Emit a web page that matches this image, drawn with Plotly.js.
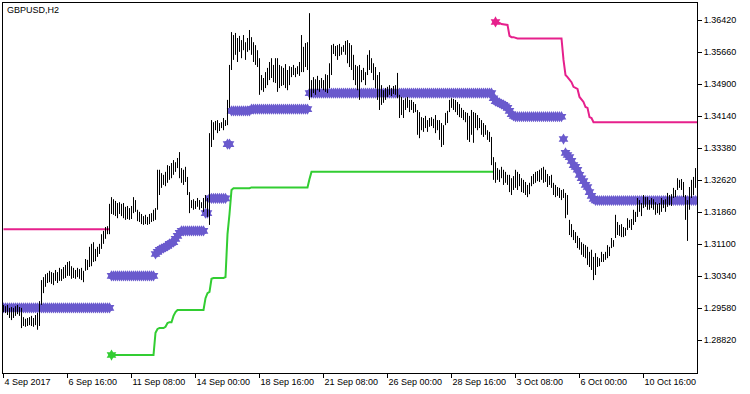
<!DOCTYPE html>
<html>
<head>
<meta charset="utf-8">
<script src="https://cdn.plot.ly/plotly-3.0.1.min.js"></script>
<style>html,body{margin:0;padding:0;background:#fff;}#chart{width:750px;height:394px;}</style>
</head>
<body>
<div id="chart"></div>
<script>
// GBPUSD H2, one row = one trading day (12 bars), 4 Sep 2017 .. 12 Oct 2017
const high = [
1.2966,1.2963,1.2966,1.2959,1.2961,1.2959,1.2963,1.2966,1.2961,1.2959,1.2937,1.2933,
1.2935,1.2937,1.2940,1.2935,1.2942,1.2947,1.2975,1.3025,1.3032,1.3039,1.3042,1.3047,
1.3044,1.3042,1.3049,1.3044,1.3054,1.3051,1.3056,1.3061,1.3068,1.3070,1.3058,1.3054,
1.3049,1.3054,1.3051,1.3054,1.3047,1.3075,1.3073,1.3104,1.3111,1.3115,1.3099,1.3104,
1.3111,1.3134,1.3142,1.3151,1.3153,1.3206,1.3222,1.3217,1.3213,1.3208,1.3210,1.3206,
1.3208,1.3199,1.3201,1.3196,1.3201,1.3222,1.3215,1.3192,1.3187,1.3182,1.3177,1.3180,
1.3175,1.3182,1.3184,1.3192,1.3196,1.3287,1.3287,1.3279,1.3275,1.3282,1.3298,1.3296,
1.3303,1.3310,1.3305,1.3315,1.3329,1.3291,1.3287,1.3294,1.3270,1.3234,1.3215,1.3217,
1.3213,1.3220,1.3215,1.3210,1.3220,1.3227,1.3220,1.3374,1.3405,1.3400,1.3403,1.3405,
1.3398,1.3400,1.3410,1.3405,1.3453,1.3536,1.3614,1.3607,1.3612,1.3600,1.3605,1.3595,
1.3607,1.3590,1.3600,1.3619,1.3602,1.3590,1.3583,1.3571,1.3552,1.3512,1.3505,1.3519,
1.3529,1.3543,1.3552,1.3536,1.3552,1.3552,1.3536,1.3533,1.3529,1.3538,1.3524,1.3533,
1.3531,1.3536,1.3529,1.3533,1.3543,1.3607,1.3579,1.3588,1.3590,1.3659,1.3500,1.3507,
1.3502,1.3510,1.3500,1.3505,1.3500,1.3514,1.3512,1.3540,1.3583,1.3586,1.3581,1.3583,
1.3586,1.3579,1.3583,1.3593,1.3595,1.3588,1.3583,1.3560,1.3536,1.3533,1.3536,1.3524,
1.3529,1.3519,1.3560,1.3571,1.3552,1.3540,1.3531,1.3512,1.3519,1.3488,1.3476,1.3481,
1.3484,1.3488,1.3481,1.3486,1.3488,1.3517,1.3465,1.3460,1.3453,1.3457,1.3460,1.3453,
1.3453,1.3448,1.3443,1.3429,1.3424,1.3412,1.3410,1.3415,1.3405,1.3410,1.3412,1.3408,
1.3417,1.3405,1.3405,1.3398,1.3393,1.3422,1.3427,1.3453,1.3457,1.3455,1.3453,1.3448,
1.3443,1.3434,1.3429,1.3424,1.3422,1.3415,1.3429,1.3424,1.3422,1.3417,1.3410,1.3405,
1.3398,1.3393,1.3381,1.3377,1.3365,1.3317,1.3305,1.3291,1.3287,1.3294,1.3287,1.3282,
1.3275,1.3275,1.3267,1.3272,1.3287,1.3282,1.3277,1.3267,1.3263,1.3258,1.3251,1.3256,
1.3272,1.3277,1.3282,1.3284,1.3287,1.3291,1.3294,1.3287,1.3277,1.3272,1.3275,1.3256,
1.3251,1.3246,1.3244,1.3239,1.3241,1.3232,1.3227,1.3168,1.3158,1.3144,1.3139,1.3130,
1.3125,1.3115,1.3111,1.3108,1.3104,1.3092,1.3097,1.3080,1.3089,1.3080,1.3077,1.3092,
1.3087,1.3092,1.3108,1.3104,1.3125,1.3120,1.3180,1.3163,1.3156,1.3158,1.3151,1.3149,
1.3172,1.3168,1.3170,1.3192,1.3187,1.3220,1.3215,1.3208,1.3227,1.3222,1.3222,1.3215,
1.3220,1.3217,1.3210,1.3206,1.3208,1.3220,1.3215,1.3217,1.3232,1.3227,1.3229,1.3244,
1.3239,1.3267,1.3263,1.3265,1.3258,1.3227,1.3215,1.3246,1.3263,1.3270,1.3291,1.3287
];
const low = [
1.2949,1.2947,1.2942,1.2935,1.2930,1.2935,1.2940,1.2944,1.2940,1.2911,1.2916,1.2914,
1.2916,1.2918,1.2916,1.2914,1.2918,1.2907,1.2916,1.2966,1.2994,1.3009,1.3018,1.3020,
1.3016,1.3013,1.3023,1.3018,1.3023,1.3023,1.3028,1.3030,1.3035,1.3035,1.3028,1.3030,
1.3028,1.3032,1.3028,1.3025,1.3020,1.3047,1.3049,1.3056,1.3058,1.3068,1.3070,1.3080,
1.3087,1.3099,1.3111,1.3123,1.3134,1.3134,1.3182,1.3180,1.3177,1.3172,1.3182,1.3177,
1.3172,1.3168,1.3170,1.3168,1.3170,1.3184,1.3187,1.3165,1.3163,1.3158,1.3156,1.3158,
1.3156,1.3158,1.3163,1.3165,1.3168,1.3192,1.3227,1.3244,1.3251,1.3248,1.3256,1.3263,
1.3267,1.3275,1.3282,1.3291,1.3267,1.3256,1.3251,1.3258,1.3227,1.3184,1.3196,1.3192,
1.3194,1.3199,1.3192,1.3196,1.3187,1.3196,1.3175,1.3156,1.3341,1.3358,1.3381,1.3374,
1.3379,1.3386,1.3381,1.3391,1.3393,1.3434,1.3524,1.3548,1.3560,1.3543,1.3567,1.3552,
1.3571,1.3548,1.3567,1.3571,1.3560,1.3543,1.3536,1.3531,1.3465,1.3476,1.3472,1.3481,
1.3488,1.3500,1.3505,1.3495,1.3493,1.3472,1.3481,1.3486,1.3488,1.3481,1.3476,1.3488,
1.3507,1.3512,1.3507,1.3514,1.3510,1.3519,1.3519,1.3531,1.3524,1.3453,1.3460,1.3469,
1.3465,1.3476,1.3472,1.3481,1.3476,1.3472,1.3469,1.3481,1.3512,1.3562,1.3557,1.3548,
1.3557,1.3560,1.3567,1.3560,1.3540,1.3531,1.3524,1.3500,1.3488,1.3476,1.3453,1.3495,
1.3500,1.3488,1.3512,1.3524,1.3517,1.3500,1.3481,1.3453,1.3429,1.3441,1.3446,1.3453,
1.3460,1.3465,1.3462,1.3467,1.3465,1.3457,1.3410,1.3417,1.3410,1.3429,1.3434,1.3424,
1.3429,1.3422,1.3424,1.3370,1.3362,1.3381,1.3377,1.3386,1.3377,1.3389,1.3391,1.3386,
1.3374,1.3381,1.3358,1.3341,1.3346,1.3393,1.3398,1.3424,1.3434,1.3429,1.3424,1.3417,
1.3412,1.3410,1.3405,1.3400,1.3358,1.3353,1.3370,1.3351,1.3386,1.3381,1.3386,1.3370,
1.3365,1.3370,1.3358,1.3353,1.3298,1.3263,1.3256,1.3263,1.3258,1.3267,1.3251,1.3256,
1.3251,1.3234,1.3227,1.3239,1.3244,1.3239,1.3248,1.3234,1.3232,1.3227,1.3222,1.3229,
1.3248,1.3253,1.3256,1.3260,1.3258,1.3263,1.3256,1.3258,1.3246,1.3251,1.3244,1.3227,
1.3222,1.3225,1.3220,1.3215,1.3220,1.3172,1.3180,1.3132,1.3127,1.3120,1.3113,1.3101,
1.3097,1.3085,1.3080,1.3077,1.3061,1.3056,1.3049,1.3025,1.3037,1.3056,1.3058,1.3068,
1.3068,1.3073,1.3077,1.3082,1.3101,1.3104,1.3125,1.3132,1.3130,1.3127,1.3127,1.3130,
1.3144,1.3149,1.3144,1.3156,1.3163,1.3175,1.3187,1.3177,1.3196,1.3199,1.3192,1.3192,
1.3196,1.3192,1.3180,1.3184,1.3180,1.3187,1.3196,1.3187,1.3199,1.3203,1.3201,1.3220,
1.3222,1.3239,1.3244,1.3239,1.3222,1.3168,1.3118,1.3192,1.3220,1.3227,1.3244,1.3239
];
const middle = [
1.2959,1.2959,1.2959,1.2959,1.2959,1.2959,1.2959,1.2959,1.2959,1.2959,1.2959,1.2959,
1.2959,1.2959,1.2959,1.2959,1.2959,1.2959,1.2959,1.2959,1.2959,1.2959,1.2959,1.2959,
1.2959,1.2959,1.2959,1.2959,1.2959,1.2959,1.2959,1.2959,1.2959,1.2959,1.2959,1.2959,
1.2959,1.2959,1.2959,1.2959,1.2959,1.2959,1.2959,1.2959,1.2959,1.2959,1.2959,1.2959,
1.2959,1.2959,1.2959,1.2959,1.2959,1.2959,1.3035,1.3035,1.3035,1.3035,1.3035,1.3035,
1.3035,1.3035,1.3035,1.3035,1.3035,1.3035,1.3035,1.3035,1.3035,1.3035,1.3035,1.3035,
1.3035,1.3035,1.3035,1.3035,1.3087,1.3092,1.3097,1.3099,1.3101,1.3104,1.3106,1.3111,
1.3113,1.3115,1.3123,1.3130,1.3137,1.3142,1.3142,1.3142,1.3142,1.3142,1.3142,1.3142,
1.3142,1.3142,1.3142,1.3142,1.3142,1.3184,1.3184,1.3219,1.3219,1.3219,1.3219,1.3219,
1.3219,1.3219,1.3219,1.3219,1.3348,1.3348,1.3427,1.3427,1.3427,1.3427,1.3427,1.3427,
1.3427,1.3427,1.3427,1.3427,1.3431,1.3431,1.3431,1.3431,1.3431,1.3431,1.3431,1.3431,
1.3431,1.3431,1.3431,1.3431,1.3431,1.3431,1.3431,1.3431,1.3431,1.3431,1.3431,1.3431,
1.3431,1.3431,1.3431,1.3431,1.3431,1.3431,1.3431,1.3431,1.3431,1.3469,1.3469,1.3469,
1.3469,1.3469,1.3469,1.3469,1.3469,1.3469,1.3469,1.3469,1.3469,1.3469,1.3469,1.3469,
1.3469,1.3469,1.3469,1.3469,1.3469,1.3469,1.3469,1.3469,1.3469,1.3469,1.3469,1.3469,
1.3469,1.3469,1.3469,1.3469,1.3469,1.3469,1.3469,1.3469,1.3469,1.3469,1.3469,1.3469,
1.3469,1.3469,1.3469,1.3469,1.3469,1.3469,1.3469,1.3469,1.3469,1.3469,1.3469,1.3469,
1.3469,1.3469,1.3469,1.3469,1.3469,1.3469,1.3469,1.3469,1.3469,1.3469,1.3469,1.3469,
1.3469,1.3469,1.3469,1.3469,1.3469,1.3469,1.3469,1.3469,1.3469,1.3469,1.3469,1.3469,
1.3469,1.3469,1.3469,1.3469,1.3469,1.3469,1.3469,1.3469,1.3469,1.3469,1.3469,1.3469,
1.3469,1.3469,1.3469,1.3469,1.3469,1.3457,1.3450,1.3448,1.3446,1.3443,1.3441,1.3438,
1.3434,1.3427,1.3419,1.3415,1.3413,1.3413,1.3413,1.3413,1.3413,1.3413,1.3413,1.3413,
1.3413,1.3413,1.3413,1.3413,1.3413,1.3413,1.3413,1.3413,1.3413,1.3413,1.3413,1.3413,
1.3413,1.3413,1.3413,1.3413,1.3360,1.3327,1.3322,1.3317,1.3308,1.3298,1.3294,1.3287,
1.3275,1.3267,1.3260,1.3251,1.3246,1.3234,1.3225,1.3218,1.3214,1.3214,1.3214,1.3214,
1.3214,1.3214,1.3214,1.3214,1.3214,1.3214,1.3214,1.3214,1.3214,1.3214,1.3214,1.3214,
1.3214,1.3214,1.3214,1.3214,1.3214,1.3214,1.3214,1.3214,1.3214,1.3214,1.3214,1.3214,
1.3214,1.3214,1.3214,1.3214,1.3214,1.3214,1.3214,1.3214,1.3214,1.3214,1.3214,1.3214,
1.3214,1.3214,1.3214,1.3214,1.3214,1.3214,1.3214,1.3214,1.3214,1.3214,1.3214,1.3214
];
const upper = [
1.3146,1.3146,1.3146,1.3146,1.3146,1.3146,1.3146,1.3146,1.3146,1.3146,1.3146,1.3146,
1.3146,1.3146,1.3146,1.3146,1.3146,1.3146,1.3146,1.3146,1.3146,1.3146,1.3146,1.3146,
1.3146,1.3146,1.3146,1.3146,1.3146,1.3146,1.3146,1.3146,1.3146,1.3146,1.3146,1.3146,
1.3146,1.3146,1.3146,1.3146,1.3146,1.3146,1.3146,1.3146,1.3146,1.3146,1.3146,1.3146,
1.3146,1.3146,1.3146,1.3146,1.3146,1.3146,null,null,null,null,null,null,
null,null,null,null,null,null,null,null,null,null,null,null,
null,null,null,null,null,null,null,null,null,null,null,null,
null,null,null,null,null,null,null,null,null,null,null,null,
null,null,null,null,null,null,null,null,null,null,null,null,
null,null,null,null,null,null,null,null,null,null,null,null,
null,null,null,null,null,null,null,null,null,null,null,null,
null,null,null,null,null,null,null,null,null,null,null,null,
null,null,null,null,null,null,null,null,null,null,null,null,
null,null,null,null,null,null,null,null,null,null,null,null,
null,null,null,null,null,null,null,null,null,null,null,null,
null,null,null,null,null,null,null,null,null,null,null,null,
null,null,null,null,null,null,null,null,null,null,null,null,
null,null,null,null,null,null,null,null,null,null,null,null,
null,null,null,null,null,null,null,null,null,null,null,null,
null,null,null,null,null,null,null,null,null,null,null,null,
null,null,null,null,null,null,1.3638,1.3637,1.3636,1.3633,1.3632,1.3631,
1.3631,1.3605,1.3602,1.3602,1.3600,1.3599,1.3599,1.3599,1.3599,1.3599,1.3599,1.3599,
1.3599,1.3599,1.3599,1.3599,1.3599,1.3599,1.3599,1.3599,1.3599,1.3599,1.3599,1.3599,
1.3599,1.3599,1.3599,1.3599,1.3548,1.3512,1.3507,1.3500,1.3495,1.3484,1.3481,1.3479,
1.3460,1.3455,1.3448,1.3436,1.3434,1.3412,1.3410,1.3400,1.3400,1.3400,1.3400,1.3400,
1.3400,1.3400,1.3400,1.3400,1.3400,1.3400,1.3400,1.3400,1.3400,1.3400,1.3400,1.3400,
1.3400,1.3400,1.3400,1.3400,1.3400,1.3400,1.3400,1.3400,1.3400,1.3400,1.3400,1.3400,
1.3400,1.3400,1.3400,1.3400,1.3400,1.3400,1.3400,1.3400,1.3400,1.3400,1.3400,1.3400,
1.3400,1.3400,1.3400,1.3400,1.3400,1.3400,1.3400,1.3400,1.3400,1.3400,1.3400,1.3400
];
const lower = [
null,null,null,null,null,null,null,null,null,null,null,null,
null,null,null,null,null,null,null,null,null,null,null,null,
null,null,null,null,null,null,null,null,null,null,null,null,
null,null,null,null,null,null,null,null,null,null,null,null,
null,null,null,null,null,null,1.2847,1.2847,1.2847,1.2847,1.2847,1.2847,
1.2847,1.2847,1.2847,1.2847,1.2847,1.2847,1.2847,1.2847,1.2847,1.2847,1.2847,1.2847,
1.2847,1.2847,1.2847,1.2847,1.2900,1.2909,1.2911,1.2911,1.2911,1.2914,1.2923,1.2925,
1.2925,1.2940,1.2949,1.2954,1.2954,1.2954,1.2954,1.2954,1.2954,1.2954,1.2954,1.2954,
1.2954,1.2954,1.2954,1.2954,1.2954,1.2982,1.2994,1.2997,1.3028,1.3030,1.3030,1.3030,
1.3030,1.3030,1.3030,1.3032,1.3134,1.3182,1.3239,1.3243,1.3243,1.3243,1.3243,1.3243,
1.3243,1.3243,1.3243,1.3243,1.3245,1.3245,1.3245,1.3245,1.3245,1.3245,1.3245,1.3245,
1.3245,1.3245,1.3245,1.3245,1.3245,1.3245,1.3245,1.3245,1.3245,1.3245,1.3245,1.3245,
1.3245,1.3245,1.3245,1.3245,1.3245,1.3245,1.3245,1.3245,1.3245,1.3265,1.3282,1.3282,
1.3282,1.3282,1.3282,1.3282,1.3282,1.3282,1.3282,1.3282,1.3282,1.3282,1.3282,1.3282,
1.3282,1.3282,1.3282,1.3282,1.3282,1.3282,1.3282,1.3282,1.3282,1.3282,1.3282,1.3282,
1.3282,1.3282,1.3282,1.3282,1.3282,1.3282,1.3282,1.3282,1.3282,1.3282,1.3282,1.3282,
1.3282,1.3282,1.3282,1.3282,1.3282,1.3282,1.3282,1.3282,1.3282,1.3282,1.3282,1.3282,
1.3282,1.3282,1.3282,1.3282,1.3282,1.3282,1.3282,1.3282,1.3282,1.3282,1.3282,1.3282,
1.3282,1.3282,1.3282,1.3282,1.3282,1.3282,1.3282,1.3282,1.3282,1.3282,1.3282,1.3282,
1.3282,1.3282,1.3282,1.3282,1.3282,1.3282,1.3282,1.3282,1.3282,1.3282,1.3282,1.3282,
1.3282,1.3282,1.3282,1.3282,1.3282,1.3282,null,null,null,null,null,null,
null,null,null,null,null,null,null,null,null,null,null,null,
null,null,null,null,null,null,null,null,null,null,null,null,
null,null,null,null,null,null,null,null,null,null,null,null,
null,null,null,null,null,null,null,null,null,null,null,null,
null,null,null,null,null,null,null,null,null,null,null,null,
null,null,null,null,null,null,null,null,null,null,null,null,
null,null,null,null,null,null,null,null,null,null,null,null,
null,null,null,null,null,null,null,null,null,null,null,null
];
const tickBars = [0, 32, 64, 96, 128, 160, 192, 224, 256, 288, 320];
const tickLabels = ['4 Sep 2017','6 Sep 16:00','11 Sep 08:00','14 Sep 00:00','18 Sep 16:00','21 Sep 08:00','26 Sep 00:00','28 Sep 16:00','3 Oct 08:00','6 Oct 00:00','10 Oct 16:00'];
const priceTicks = [1.28820, 1.29580, 1.30340, 1.31100, 1.31860, 1.32620, 1.33380, 1.34140, 1.34900, 1.35660, 1.36420];
const chartTitle = 'GBPUSD,H2';

const FONT = '"Liberation Sans", Arial, sans-serif';
const N = high.length;
const barIdx = high.map((_, i) => i);

// price bars as vertical high-low strokes
const bx = [], by = [];
for (let i = 0; i < N; i++) { bx.push(i, i, null); by.push(low[i], high[i], null); }

// start markers: where a line starts after a gap
function starts(arr) {
  const xs = [], ys = [];
  for (let i = 1; i < arr.length; i++) {
    if (arr[i] !== null && arr[i - 1] === null) { xs.push(i); ys.push(arr[i]); }
  }
  return {xs, ys};
}
const us = starts(upper), ls = starts(lower);

const PINK = '#E6208C', GREEN = '#32CD32', PURPLE = '#6A5ACD';
const STAR = 8.5;

const traces = [
  {x: barIdx, y: upper, type: 'scatter', mode: 'lines', line: {color: PINK, width: 2}, connectgaps: false, hoverinfo: 'skip'},
  {x: barIdx, y: lower, type: 'scatter', mode: 'lines', line: {color: GREEN, width: 2}, connectgaps: false, hoverinfo: 'skip'},
  {x: barIdx, y: middle, type: 'scatter', mode: 'markers', marker: {symbol: 'hexagram', size: STAR, color: PURPLE, line: {width: 0}}, hoverinfo: 'skip'},
  {x: us.xs, y: us.ys, type: 'scatter', mode: 'markers', marker: {symbol: 'hexagram', size: STAR, color: PINK, line: {width: 0}}, hoverinfo: 'skip'},
  {x: ls.xs, y: ls.ys, type: 'scatter', mode: 'markers', marker: {symbol: 'hexagram', size: STAR, color: GREEN, line: {width: 0}}, hoverinfo: 'skip'},
  {x: bx, y: by, type: 'scatter', mode: 'lines', line: {color: '#000000', width: 1}, connectgaps: false, hoverinfo: 'skip'}
];

const layout = {
  width: 750, height: 394,
  margin: {l: 3, r: 53, t: 3, b: 21, pad: 0},
  paper_bgcolor: '#ffffff', plot_bgcolor: '#ffffff',
  showlegend: false, hovermode: false,
  font: {family: FONT, size: 9, color: '#000000'},
  title: {text: chartTitle, x: 7/750, xref: 'container', xanchor: 'left', y: 1 - 10/394, yref: 'container', yanchor: 'middle',
          font: {family: FONT, size: 9, color: '#000000'}},
  xaxis: {
    range: [-0.25, 346.75], tickvals: tickBars, ticktext: tickLabels,
    ticks: 'outside', ticklen: 4, tickwidth: 1, tickcolor: '#000000',
    ticklabelposition: 'outside right',
    showline: true, mirror: true, linecolor: '#000000', linewidth: 1,
    showgrid: false, zeroline: false, fixedrange: true,
    tickfont: {family: FONT, size: 9, color: '#000000'}
  },
  yaxis: {
    range: [1.28043, 1.36831], side: 'right', tickvals: priceTicks, tickformat: '.5f',
    ticks: 'outside', ticklen: 4, tickwidth: 1, tickcolor: '#000000',
    showline: true, mirror: true, linecolor: '#000000', linewidth: 1,
    showgrid: false, zeroline: false, fixedrange: true,
    tickfont: {family: FONT, size: 9, color: '#000000'}
  }
};

Plotly.newPlot('chart', traces, layout, {staticPlot: true, displayModeBar: false});
</script>
</body>
</html>
